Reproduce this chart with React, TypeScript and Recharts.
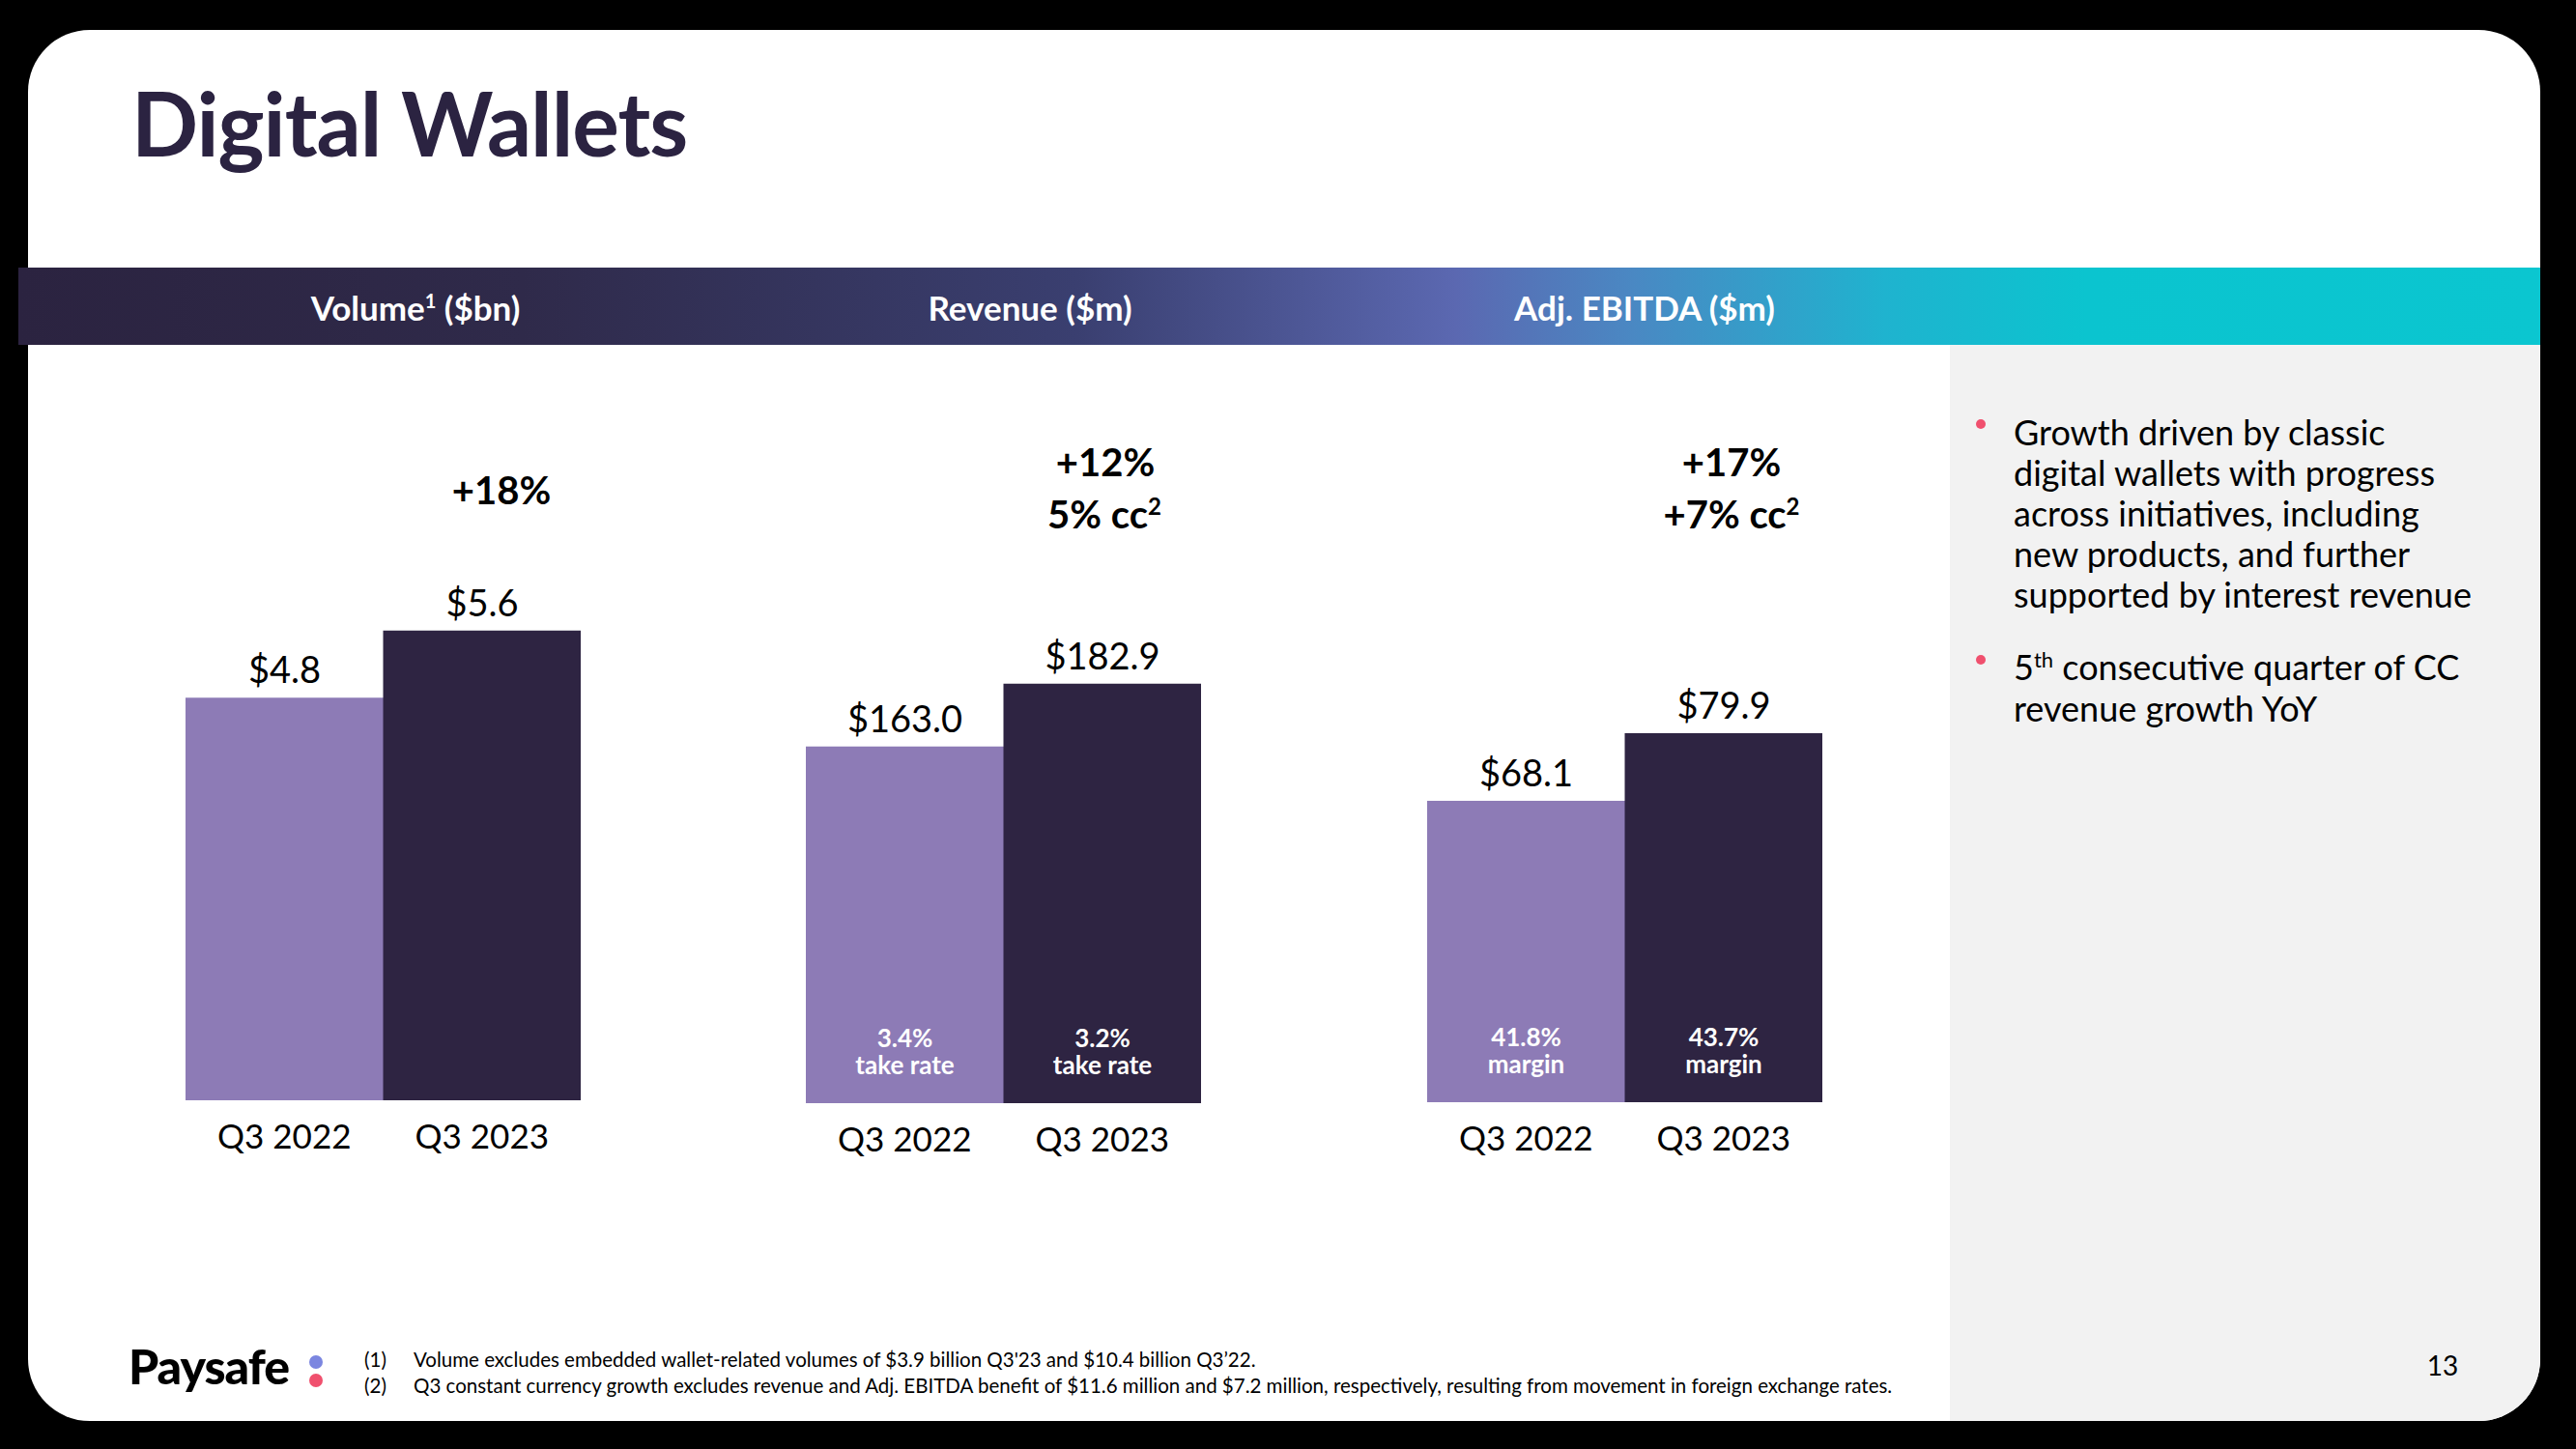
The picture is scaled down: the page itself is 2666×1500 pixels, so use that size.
import React from "react";
import { BarChart, Bar, XAxis, YAxis, Cell, LabelList } from "recharts";

const quarters = ["Q3 2022", "Q3 2023"];
const volumeValues = [4.8, 5.6];
const revenueValues = [163.0, 182.9];
const ebitdaValues = [68.1, 79.9];
const takeRates = ["3.4%", "3.2%"];
const margins = ["41.8%", "43.7%"];

const headers = ["Volume", "Revenue ($m)", "Adj. EBITDA ($m)"];
const bullets = [
  [
    "Growth driven by classic",
    "digital wallets with progress",
    "across initiatives, including",
    "new products, and further",
    "supported by interest revenue",
  ],
  ["consecutive quarter of CC", "revenue growth YoY"],
];
const footnotes = [
  "Volume excludes embedded wallet-related volumes of $3.9 billion Q3'23 and $10.4 billion Q3\u201922.",
  "Q3 constant currency growth excludes revenue and Adj. EBITDA benefit of $11.6 million and $7.2 million, respectively, resulting from movement in foreign exchange rates.",
];

const barColors = ["#8d7bb6", "#2e2442"];
const FONT = "Lato, 'Open Sans', sans-serif";
const PLOT_H = 660;

type Row = { q: string; v: number; rate?: string; note?: string };

const makeRows = (values: number[], rates?: string[], note?: string): Row[] =>
  quarters.map((q, i) => ({
    q,
    v: values[i],
    rate: rates ? rates[i] : undefined,
    note: rates ? note : undefined,
  }));

function MiniBars({
  rows,
  domain,
  left,
  baseline,
}: {
  rows: Row[];
  domain: [number, number];
  left: number;
  baseline: number;
}) {
  const hasNotes = rows.some((r) => r.rate);
  return (
    <div style={{ position: "absolute", left, top: baseline - PLOT_H }}>
      <BarChart
        width={409}
        height={PLOT_H + 80}
        data={rows}
        margin={{ top: 0, right: 0, bottom: 0, left: 0 }}
        barCategoryGap={0}
        barGap={0}
      >
        <XAxis
          dataKey="q"
          axisLine={false}
          tickLine={false}
          tickSize={0}
          tickMargin={25}
          height={80}
          interval={0}
          tick={{ fontSize: 35, fill: "#000", fontFamily: FONT }}
        />
        <YAxis hide type="number" domain={domain} allowDataOverflow />
        <Bar dataKey="v" isAnimationActive={false}>
          {rows.map((r, i) => (
            <Cell key={r.q} fill={barColors[i]} />
          ))}
          <LabelList
            dataKey="v"
            position="top"
            offset={15}
            formatter={(v: any) => `$${Number(v).toFixed(1)}`}
            style={{ fontSize: 38, fill: "#000", fontFamily: FONT }}
          />
          {hasNotes && (
            <LabelList
              dataKey="rate"
              position="insideBottom"
              offset={58}
              style={{ fontSize: 26, fontWeight: 700, fill: "#fff", fontFamily: FONT }}
            />
          )}
          {hasNotes && (
            <LabelList
              dataKey="note"
              position="insideBottom"
              offset={30}
              style={{ fontSize: 26, fontWeight: 700, fill: "#fff", fontFamily: FONT }}
            />
          )}
        </Bar>
      </BarChart>
    </div>
  );
}

function Txt({
  x,
  y,
  size,
  children,
  bold,
  color = "#000",
  center = true,
}: {
  x: number;
  y: number;
  size: number;
  children: React.ReactNode;
  bold?: boolean;
  color?: string;
  center?: boolean;
}) {
  return (
    <div
      style={{
        position: "absolute",
        left: x,
        top: y,
        transform: center ? "translate(-50%, -50%)" : "translate(0, -50%)",
        fontSize: size,
        lineHeight: 1,
        fontWeight: bold ? 700 : 400,
        color,
        whiteSpace: "nowrap",
      }}
    >
      {children}
    </div>
  );
}

export default function App() {
  return (
    <div
      style={{
        position: "absolute",
        left: 0,
        top: 0,
        width: 2666,
        height: 1500,
        background: "#000",
        fontFamily: FONT,
        overflow: "hidden",
      }}
    >
      <div
        style={{
          position: "absolute",
          left: 29,
          top: 31,
          width: 2600,
          height: 1440,
          background: "#fff",
          borderRadius: 64,
          overflow: "hidden",
        }}
      >
        <div
          style={{
            position: "absolute",
            left: 1989,
            top: 326,
            width: 611,
            height: 1114,
            background: "#f2f2f2",
          }}
        />
      </div>

      {/* header band */}
      <div
        style={{
          position: "absolute",
          left: 19,
          top: 277,
          width: 2610,
          height: 80,
          background:
            "linear-gradient(90deg, #2b2340 0%, #2f2a4a 20%, #3a3f70 42%, #5b68b1 57%, #4a88c3 64%, #1fb3cf 74%, #0bc4cf 82%, #0bc6d0 100%)",
        }}
      />

      <div
        style={{
          position: "absolute",
          left: 136,
          top: 162 - 91 * 0.887,
          fontSize: 91,
          fontWeight: 700,
          color: "#2b2341",
          lineHeight: 1,
          letterSpacing: -1,
        }}
      >
        Digital Wallets
      </div>

      <Txt x={430} y={318} size={35} bold color="#fff">
        {headers[0]}
        <sup style={{ fontSize: 20 }}>1</sup> ($bn)
      </Txt>
      <Txt x={1066} y={318} size={35} bold color="#fff">
        {headers[1]}
      </Txt>
      <Txt x={1702} y={318} size={35} bold color="#fff">
        {headers[2]}
      </Txt>

      <Txt x={519} y={507} size={40} bold>
        +18%
      </Txt>
      <Txt x={1144} y={478} size={40} bold>
        +12%
      </Txt>
      <Txt x={1143} y={532} size={40} bold>
        5% cc<sup style={{ fontSize: 24 }}>2</sup>
      </Txt>
      <Txt x={1792} y={478} size={40} bold>
        +17%
      </Txt>
      <Txt x={1792} y={532} size={40} bold>
        +7% cc<sup style={{ fontSize: 24 }}>2</sup>
      </Txt>

      <MiniBars rows={makeRows(volumeValues)} domain={[0, 7.6]} left={192} baseline={1139} />
      <MiniBars
        rows={makeRows(revenueValues, takeRates, "take rate")}
        domain={[50, 252]}
        left={834}
        baseline={1142}
      />
      <MiniBars
        rows={makeRows(ebitdaValues, margins, "margin")}
        domain={[15.5, 126.8]}
        left={1477}
        baseline={1141}
      />

      {/* bullets */}
      <div style={{ position: "absolute", left: 2045, top: 434, width: 10, height: 10, borderRadius: 5, background: "#f0506e" }} />
      {bullets[0].map((line, i) => (
        <Txt key={line} x={2084} y={447 + i * 42} size={36} center={false}>
          {line}
        </Txt>
      ))}
      <div style={{ position: "absolute", left: 2045, top: 678, width: 10, height: 10, borderRadius: 5, background: "#f0506e" }} />
      <Txt x={2084} y={690} size={36} center={false}>
        5<sup style={{ fontSize: 22 }}>th</sup> {bullets[1][0]}
      </Txt>
      <Txt x={2084} y={733} size={36} center={false}>
        {bullets[1][1]}
      </Txt>

      {/* footer */}
      <div
        style={{
          position: "absolute",
          left: 133,
          top: 1433 - 50 * 0.887,
          fontSize: 50,
          fontWeight: 900,
          lineHeight: 1,
          color: "#000",
          letterSpacing: -1,
        }}
      >
        Paysafe
      </div>
      <div style={{ position: "absolute", left: 320, top: 1403, width: 14, height: 14, borderRadius: 7, background: "#7b86e0" }} />
      <div style={{ position: "absolute", left: 320, top: 1422, width: 14, height: 14, borderRadius: 7, background: "#f0506e" }} />
      {footnotes.map((f, i) => (
        <React.Fragment key={i}>
          <Txt x={377} y={1407 + i * 27} size={20.5} center={false}>
            ({i + 1})
          </Txt>
          <Txt x={428} y={1407 + i * 27} size={20.5} center={false}>
            {f}
          </Txt>
        </React.Fragment>
      ))}
      <Txt x={2528} y={1413} size={28}>
        13
      </Txt>
    </div>
  );
}
